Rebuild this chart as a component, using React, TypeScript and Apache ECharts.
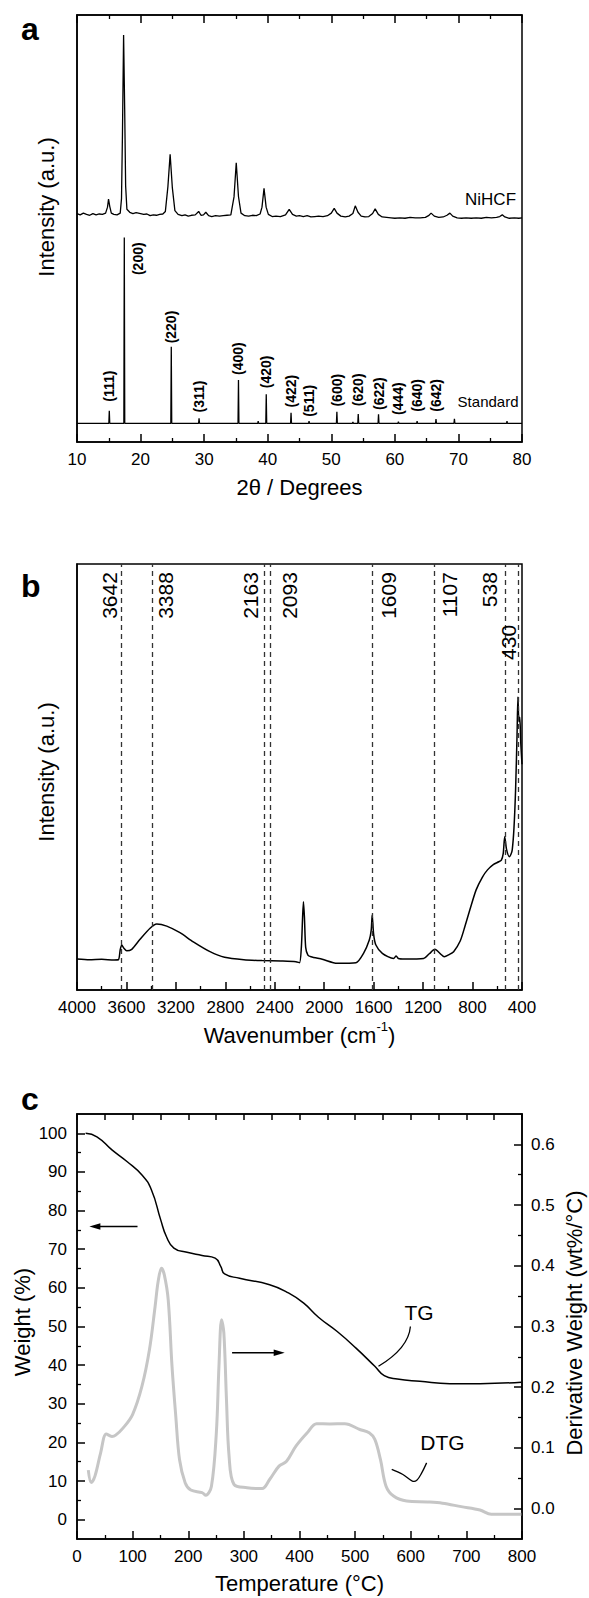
import React, { useEffect, useRef } from "react";
import * as echarts from "echarts";

const FONT = '"Liberation Sans", Arial, Helvetica, sans-serif';

// ---------- Panel a : XRD ----------
const xrdXTicks = [10, 20, 30, 40, 50, 60, 70, 80];
const niHCF: [number, number][] = [
  [10, 53.5], [10.5, 53.2], [11, 53.6], [11.5, 53.3], [12, 53.1], [12.5, 53.5], [13, 53.2], [13.5, 53.4],
  [14, 53.3], [14.5, 53.6], [14.8, 55], [14.96, 56.9], [15.15, 55.2], [15.4, 53.6], [15.8, 53.3], [16.3, 53.2],
  [16.8, 53.6], [17.0, 57], [17.15, 72], [17.33, 95.3], [17.5, 78], [17.65, 60], [17.85, 54.5], [18.3, 53.8],
  [18.8, 53.5], [19.3, 53.7], [20, 53.5], [20.5, 53.3], [21, 53.4], [21.5, 53.0], [22, 53.2], [22.5, 53.1],
  [23, 53.3], [23.5, 53.4], [23.9, 54], [24.3, 59.8], [24.65, 67.4], [25.0, 59.5], [25.4, 54.2], [25.9, 53.3],
  [26.5, 53.0], [27, 53.2], [27.5, 52.9], [28, 53.1], [28.6, 53.2], [29.14, 54], [29.5, 53.1], [29.9, 53.2],
  [30.26, 53.8], [30.7, 53.0], [31.2, 52.8], [31.8, 53.0], [32.4, 52.9], [33, 53.0], [33.6, 53.1], [34.2, 53.2],
  [34.7, 57.4], [35.05, 65.4], [35.4, 57.5], [35.8, 53.6], [36.4, 53.0], [37, 52.9], [37.6, 53.1], [38.2, 53.0],
  [38.8, 53.4], [39.1, 55], [39.42, 59.4], [39.75, 55], [40.1, 53.3], [40.7, 52.8], [41.3, 52.9], [42, 52.8],
  [42.8, 53.2], [43.38, 54.5], [43.9, 53.3], [44.5, 52.9], [45, 53.0], [45.6, 52.8], [46.2, 53.0], [46.8, 52.7],
  [47.4, 52.8], [48, 52.9], [48.7, 52.8], [49.4, 53.0], [50, 53.6], [50.46, 54.7], [50.9, 53.6], [51.5, 52.9],
  [52.2, 52.7], [52.8, 52.9], [53.4, 53.5], [53.77, 55.3], [54.2, 53.8], [54.7, 52.9], [55.3, 52.7], [55.9, 52.8],
  [56.5, 53.5], [56.9, 54.6], [57.4, 53.3], [58, 52.7], [58.7, 52.6], [59.4, 52.5], [60, 52.4], [60.8, 52.5],
  [61.6, 52.4], [62.4, 52.6], [63.2, 52.5], [64, 52.5], [64.8, 52.6], [65.3, 53.0], [65.7, 53.6], [66.2, 52.9],
  [66.9, 52.6], [67.6, 52.7], [68.2, 53.1], [68.66, 53.6], [69.1, 52.9], [69.8, 52.5], [70.5, 52.4], [71.2, 52.5],
  [72, 52.4], [72.8, 52.5], [73.6, 52.4], [74.4, 52.6], [75.2, 52.5], [76, 52.6], [76.5, 52.8], [76.9, 53.2],
  [77.3, 52.7], [78, 52.4], [78.8, 52.5], [79.5, 52.4], [80, 52.5],
];
const stdPositions = [15.08, 17.44, 24.83, 29.2, 35.4, 38.5, 39.77, 43.67, 46.5, 50.88, 53.4, 54.24, 57.43, 60.56, 63.5, 66.47, 69.37, 77.64];
const stdTops = [7.33, 47.9, 22.3, 5.55, 14.5, 4.9, 11.2, 6.86, 4.9, 7.1, 4.7, 6.56, 6.5, 4.75, 4.9, 5.4, 5.45, 4.9];
const stdBaseline = 4.38;
const hklLabels = ["(111)", "(200)", "(220)", "(311)", "(400)", "(420)", "(422)", "(511)", "(600)", "(620)", "(622)", "(444)", "(640)", "(642)"];
const hklLabelPos: [number, number][] = [
  [15.08, 9.44], [19.63, 39.1], [24.83, 23.1], [29.2, 6.9], [35.4, 15.7], [39.77, 12.6], [43.67, 8.1],
  [46.5, 5.9], [50.88, 8.3], [54.24, 8.4], [57.43, 7.5], [60.56, 6.3], [63.5, 7.1], [66.47, 7.1],
];
const niHCFLabelPos: [number, number] = [79.06, 56.9];
const standardLabelPos: [number, number] = [79.45, 9.44];

// ---------- Panel b : FTIR ----------
const ftir: [number, number][] = [
  [4000, 7.28], [3900, 7.1], [3800, 7.2], [3700, 7.04], [3665, 7.1], [3650, 9.5], [3638, 10.56], [3620, 9.8],
  [3598, 9.2], [3557, 9.55], [3490, 11.9], [3409, 14.5], [3355, 15.5], [3274, 15.0], [3167, 13.45], [3059, 11.3],
  [2924, 9.0], [2806, 7.67], [2650, 7.1], [2502, 6.9], [2350, 6.8], [2229, 6.65], [2200, 6.4], [2185, 10],
  [2175, 17], [2168, 20.7], [2160, 17], [2150, 10], [2132, 8.2], [2107, 7.8], [2016, 7.2], [1895, 6.26],
  [1743, 6.4], [1682, 8.6], [1636, 11.7], [1620, 14], [1612, 17.6], [1600, 13], [1582, 10.56], [1530, 8.6],
  [1439, 7.4], [1418, 8], [1400, 7.4], [1348, 7.28], [1196, 7.4], [1150, 8.5], [1105, 9.55], [1060, 8.5],
  [1029, 7.8], [990, 8.3], [953, 9], [900, 11.5], [862, 14.9], [820, 19], [771, 23.5], [720, 26.5],
  [679, 28.2], [630, 29.5], [588, 30.1], [567, 30.5], [552, 32], [540, 36], [525, 33], [503, 31.3],
  [490, 31.8], [479, 32.9], [465, 38], [452, 46.9], [440, 60], [433, 68.8], [425, 63], [418, 64],
  [410, 58], [400, 53],
];
const bandLines = [3642, 3388, 2487, 2435, 1609, 1107, 538, 430];
const bandLabels = ["3642", "3388", "2163", "2093", "1609", "1107", "538", "430"];
const bandLabelPos: [number, number][] = [
  [3739, 98.1], [3286, 98.1], [2593, 98.1], [2283, 98.1], [1478, 98.1], [983, 98.1], [659, 98.1], [513, 85.7],
];

// ---------- Panel c : TGA ----------
const tgData: [number, number][] = [
  [15.5, 100], [35.8, 99.1], [62.8, 95.7], [89.8, 92.7], [116.8, 89.2], [133.7, 85.4], [150.5, 77.6],
  [160.7, 73.3], [174.2, 70.3], [197.8, 69.2], [224.8, 68.4], [248.4, 67.7], [258.6, 65.5], [265.3, 63.6],
  [292.3, 62.5], [346.3, 60.8], [380.1, 58.7], [407.1, 56.1], [434.1, 52.4], [467.8, 48.7], [501.6, 44.4],
  [535.4, 39.7], [552.3, 37.3], [575.9, 36.4], [616.4, 35.8], [670.4, 35.2], [724.5, 35.2], [798.8, 35.6],
];
const dtgData: [number, number][] = [
  [20.3, 0.0635], [25.6, 0.043], [32.4, 0.054], [42.5, 0.092], [52.7, 0.123], [62.8, 0.119], [69.5, 0.121],
  [83, 0.133], [99.9, 0.155], [116.8, 0.2016], [130.3, 0.262], [140.4, 0.333], [146, 0.375], [151.9, 0.396],
  [157, 0.385], [164, 0.344], [170.8, 0.2346], [177.6, 0.152], [184.3, 0.081], [194.4, 0.0428], [204.6, 0.0306],
  [224.8, 0.0263], [231.6, 0.022], [241.7, 0.037], [250.5, 0.125], [255.2, 0.2346], [259.9, 0.311], [264, 0.2895],
  [268.7, 0.18], [273.4, 0.0865], [282.2, 0.04], [305.8, 0.0345], [332.8, 0.033], [346.3, 0.048], [363.2, 0.07],
  [376.7, 0.078], [393.6, 0.103], [413.9, 0.125], [430.8, 0.14], [454.4, 0.1395], [481.4, 0.14], [508.4, 0.1304],
  [525.3, 0.125], [535.4, 0.114], [545.5, 0.081], [555.6, 0.037], [569.1, 0.0207], [592.7, 0.0125], [629.9, 0.011],
  [656.9, 0.009], [690.7, 0.0033], [724.5, -0.0023], [744.8, -0.0094], [798.8, -0.0094],
];
const weightTicks = [0, 10, 20, 30, 40, 50, 60, 70, 80, 90, 100];
const weightMinorTicks = [5, 15, 25, 35, 45, 55, 65, 75, 85, 95];
const derivTicks = [0, 0.1, 0.2, 0.3, 0.4, 0.5, 0.6];
const derivMinorTicks = [0.05, 0.15, 0.25, 0.35, 0.45, 0.55];
const leftArrow: [number, number][] = [[108.8, 75.9], [22.2, 75.9]];
const rightArrow: [number, number][] = [[278.8, 43.2], [373.4, 43.2]];
const tgLeader: [number, number][] = [[542, 39.7], [596.1, 44.4], [599.4, 50.0]];
const dtgLeader: [number, number][] = [[565.8, 13.0], [585.9, 11.7], [602.8, 10.0], [610.9, 10.2], [619.7, 12.1], [628.5, 14.7]];
const tgLabelPos: [number, number] = [615, 53.6];
const dtgLabelPos: [number, number] = [656.9, 19.9];

const BLACK = "#000";
const tickLabel = { color: BLACK, fontSize: 17, fontFamily: FONT };
const nameStyle = { color: BLACK, fontSize: 22, fontFamily: FONT };

function xAxisBase(extra: any) {
  return {
    type: "value",
    axisLine: { show: true, onZero: false, lineStyle: { color: BLACK, width: 1.5 } },
    axisTick: { show: true, inside: true, length: 8, lineStyle: { color: BLACK, width: 1.5 } },
    minorTick: { show: true, splitNumber: 2, length: 4, lineStyle: { color: BLACK, width: 1.3 } },
    axisLabel: { ...tickLabel, margin: 9, formatter: (v: number) => String(v) },
    splitLine: { show: false },
    minorSplitLine: { show: false },
    ...extra,
  };
}

export default function App() {
  const ref = useRef<HTMLDivElement>(null);
  useEffect(() => {
    document.body.style.margin = "0";
    if (!ref.current) return;
    const chart = echarts.init(ref.current, null, { renderer: "svg" });

    const stdLine: [number, number][] = [[10, stdBaseline]];
    stdPositions.forEach((p, i) => {
      stdLine.push([p - 0.07, stdBaseline], [p, stdTops[i]], [p + 0.07, stdBaseline]);
    });
    stdLine.push([80, stdBaseline]);

    const gridBox = { show: true, borderColor: BLACK, borderWidth: 1.5, backgroundColor: "transparent" };
    const option: any = {
      animation: false,
      grid: [
        { left: 77, top: 15, width: 445, height: 427, ...gridBox },
        { left: 77, top: 564, width: 445, height: 426, ...gridBox },
        { left: 77, top: 1114, width: 445, height: 425, ...gridBox },
      ],
      xAxis: [
        xAxisBase({ gridIndex: 0, min: xrdXTicks[0], max: xrdXTicks[xrdXTicks.length - 1], interval: 10, position: "bottom",
          name: "2θ / Degrees", nameLocation: "middle", nameGap: 34, nameTextStyle: nameStyle }),
        xAxisBase({ gridIndex: 0, min: 10, max: 80, interval: 10, position: "top", axisLabel: { show: false } }),
        xAxisBase({ gridIndex: 1, min: 400, max: 4000, interval: 400, inverse: true, position: "bottom",
          name: "{a|Wavenumber (cm}{s|-1}{a|)}", nameLocation: "middle", nameGap: 30,
          nameTextStyle: { ...nameStyle, rich: { a: { fontSize: 22, fontFamily: FONT, color: BLACK, verticalAlign: "bottom", lineHeight: 26 },
            s: { fontSize: 13, fontFamily: FONT, color: BLACK, verticalAlign: "top", lineHeight: 26 } } } }),
        xAxisBase({ gridIndex: 2, min: 0, max: 800, interval: 100, position: "bottom",
          name: "Temperature (°C)", nameLocation: "middle", nameGap: 33, nameTextStyle: nameStyle }),
        xAxisBase({ gridIndex: 2, min: 0, max: 800, interval: 50, position: "top", axisLabel: { show: false },
          axisTick: { show: true, inside: true, length: 6, lineStyle: { color: BLACK, width: 1.5 } }, minorTick: { show: false } }),
      ],
      yAxis: [
        { type: "value", gridIndex: 0, min: 0, max: 100, axisLine: { show: true, onZero: false, lineStyle: { color: BLACK, width: 1.5 } },
          axisTick: { show: false }, axisLabel: { show: false }, splitLine: { show: false } },
        { type: "value", gridIndex: 1, min: 0, max: 100, axisLine: { show: true, onZero: false, lineStyle: { color: BLACK, width: 1.5 } },
          axisTick: { show: false }, axisLabel: { show: false }, splitLine: { show: false } },
        { type: "value", gridIndex: 2, min: -5, max: 105, position: "left",
          axisLine: { show: true, onZero: false, lineStyle: { color: BLACK, width: 1.5 } },
          axisTick: { show: true, inside: true, length: 8, customValues: weightTicks, lineStyle: { color: BLACK, width: 1.5 } },
          axisLabel: { ...tickLabel, margin: 10, customValues: weightTicks }, splitLine: { show: false } },
        { type: "value", gridIndex: 2, min: -5, max: 105, position: "left",
          axisLine: { show: false, onZero: false },
          axisTick: { show: true, inside: true, length: 4, customValues: weightMinorTicks, lineStyle: { color: BLACK, width: 1.3 } },
          axisLabel: { show: false }, splitLine: { show: false } },
        { type: "value", gridIndex: 2, min: -0.05, max: 0.65, position: "right",
          axisLine: { show: true, onZero: false, lineStyle: { color: BLACK, width: 1.5 } },
          axisTick: { show: true, inside: true, length: 8, customValues: derivTicks, lineStyle: { color: BLACK, width: 1.5 } },
          axisLabel: { ...tickLabel, margin: 9, customValues: derivTicks, formatter: (v: number) => v.toFixed(1) }, splitLine: { show: false } },
        { type: "value", gridIndex: 2, min: -0.05, max: 0.65, position: "right",
          axisLine: { show: false, onZero: false },
          axisTick: { show: true, inside: true, length: 4, customValues: derivMinorTicks, lineStyle: { color: BLACK, width: 1.3 } },
          axisLabel: { show: false }, splitLine: { show: false } },
      ],
      series: [
        { name: "NiHCF", type: "line", xAxisIndex: 0, yAxisIndex: 0, data: niHCF, symbol: "none",
          lineStyle: { color: BLACK, width: 1.3 } },
        { name: "Standard", type: "line", xAxisIndex: 0, yAxisIndex: 0, data: stdLine, symbol: "none",
          lineStyle: { color: BLACK, width: 1.3 } },
        { name: "FTIR", type: "line", xAxisIndex: 2, yAxisIndex: 1, data: ftir, symbol: "none", smooth: 0.25,
          lineStyle: { color: BLACK, width: 1.5 },
          markLine: { silent: true, symbol: ["none", "none"], label: { show: false },
            lineStyle: { color: "#333", width: 1.3, type: [5, 4] },
            data: bandLines.map((v) => ({ xAxis: v })) } },
        { name: "TG", type: "line", xAxisIndex: 3, yAxisIndex: 2, data: tgData, symbol: "none", smooth: 0.5,
          lineStyle: { color: BLACK, width: 1.5 }, z: 3 },
        { name: "DTG", type: "line", xAxisIndex: 3, yAxisIndex: 4, data: dtgData, symbol: "none", smooth: 0.35,
          lineStyle: { color: "#c6c6c6", width: 3 }, z: 2 },
      ],
    };
    chart.setOption(option);

    const P = (si: number, p: [number, number]) => chart.convertToPixel({ seriesIndex: si }, p) as number[];
    const text = (x: number, y: number, t: string, o: any = {}) => ({
      type: "text", x, y, rotation: o.rot || 0, silent: true, z: 10,
      style: { text: t, fontSize: o.size || 17, fontFamily: FONT, fontWeight: o.bold ? "bold" : "normal", fill: BLACK,
        align: o.align || "center", verticalAlign: o.va || "middle" },
    });
    const g: any[] = [];
    g.push(text(21, 29, "a", { size: 32, bold: true, align: "left" }));
    g.push(text(21, 586, "b", { size: 32, bold: true, align: "left" }));
    g.push(text(21, 1099, "c", { size: 32, bold: true, align: "left" }));
    g.push(text(46, 207, "Intensity (a.u.)", { size: 22, rot: Math.PI / 2 }));
    g.push(text(46, 772, "Intensity (a.u.)", { size: 22, rot: Math.PI / 2 }));
    g.push(text(22, 1322, "Weight (%)", { size: 22, rot: Math.PI / 2 }));
    g.push(text(574, 1323, "Derivative Weight (wt%/°C)", { size: 22, rot: Math.PI / 2 }));
    hklLabels.forEach((l, i) => {
      const [x, y] = P(0, hklLabelPos[i]);
      g.push(text(x, y, l, { size: 14, bold: true, rot: Math.PI / 2, align: "left" }));
    });
    {
      const [x, y] = P(0, niHCFLabelPos);
      g.push(text(x, y, "NiHCF", { size: 17, align: "right" }));
      const [x2, y2] = P(0, standardLabelPos);
      g.push(text(x2, y2, "Standard", { size: 15, align: "right" }));
    }
    bandLabels.forEach((l, i) => {
      const [x, y] = P(2, bandLabelPos[i]);
      g.push(text(x, y, l, { size: 21, rot: Math.PI / 2, align: "right" }));
    });
    const arrow = (a: [number, number], b: [number, number]) => {
      const [x1, y1] = P(3, a);
      const [x2, y2] = P(3, b);
      const d = Math.sign(x2 - x1);
      g.push({ type: "line", silent: true, z: 10, shape: { x1, y1, x2: x2 - d * 8, y2 }, style: { stroke: BLACK, lineWidth: 1.5 } });
      g.push({ type: "polygon", silent: true, z: 10, shape: { points: [[x2, y2], [x2 - d * 11, y2 - 3.2], [x2 - d * 11, y2 + 3.2]] }, style: { fill: BLACK } });
    };
    arrow(leftArrow[0], leftArrow[1]);
    arrow(rightArrow[0], rightArrow[1]);
    {
      const [sx, sy] = P(3, tgLeader[0]);
      const [cx, cy] = P(3, tgLeader[1]);
      const [ex, ey] = P(3, tgLeader[2]);
      g.push({ type: "bezierCurve", silent: true, z: 10, shape: { x1: sx, y1: sy, x2: ex, y2: ey, cpx1: cx, cpy1: cy },
        style: { stroke: BLACK, lineWidth: 1.3, fill: "none" } });
      g.push({ type: "polyline", silent: true, z: 10, shape: { points: dtgLeader.map((p) => P(3, p)), smooth: 0.35 },
        style: { stroke: BLACK, lineWidth: 1.3, fill: "none" } });
      const [tx, ty] = P(3, tgLabelPos);
      g.push(text(tx, ty, "TG", { size: 21 }));
      const [dx, dy] = P(3, dtgLabelPos);
      g.push(text(dx, dy, "DTG", { size: 21 }));
    }
    chart.setOption({ graphic: g });

    return () => chart.dispose();
  }, []);
  return <div ref={ref} style={{ width: 589, height: 1598 }} />;
}
